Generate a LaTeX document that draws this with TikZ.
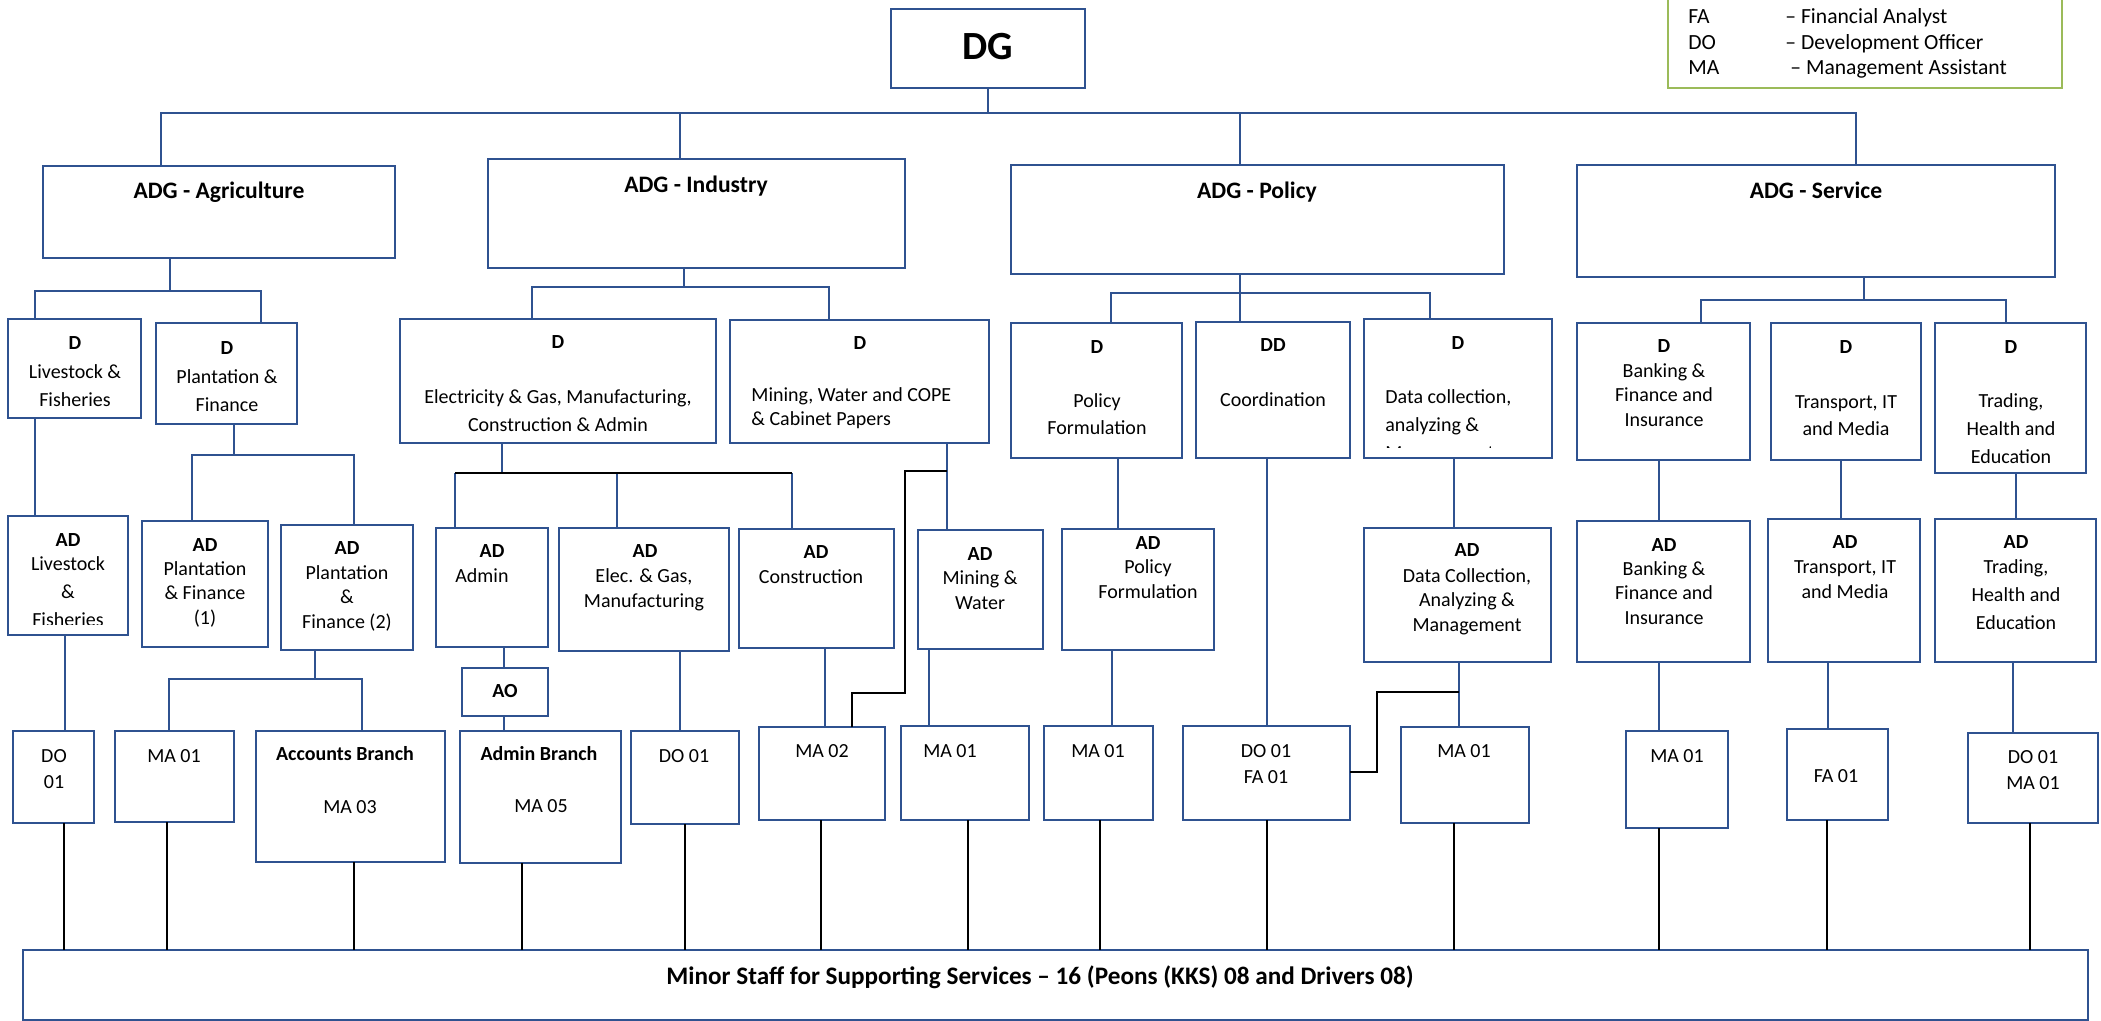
\documentclass[tikz,border=0pt]{standalone}
\usepackage{fontspec}
\setmainfont{Carlito}
\usetikzlibrary{fit}
\definecolor{boxblue}{HTML}{2F5290}
\definecolor{leggreen}{HTML}{9BBB59}
\newcommand\bx[6][box]{\node[#1, fit={(#3,#4) (#5,#6)}] (#2) {};}
\newcommand\tx[5][txt]{\node[#1] (#2) at (#3,#4) {#5};}
\newcommand\vc[4][conn]{\draw[#1] (#2.south -| #4,0) -- (#3.north -| #4,0);}
\begin{document}
\begin{tikzpicture}[x=0.5pt,y=-0.5pt,
  box/.style={draw=boxblue,line width=0.7pt,inner sep=0pt,outer sep=0pt},
  lgbox/.style={draw=leggreen,line width=1pt,inner sep=0pt,outer sep=0pt},
  conn/.style={draw=boxblue,line width=0.9pt},
  blk/.style={draw=black,line width=1.1pt},
  staff/.style={draw=black,line width=0.8pt},
  txt/.style={font=\fontsize{10}{12}\selectfont,text height=6.4pt,text depth=0pt,inner sep=0pt},
  txtb/.style={txt,font=\fontsize{10}{12}\selectfont\bfseries},
  txtw/.style={txt,anchor=west},
  adgt/.style={font=\fontsize{11.8}{14}\selectfont\bfseries,text height=7.6pt,text depth=0pt,inner sep=0pt},
  dgt/.style={font=\fontsize{20}{24}\selectfont\bfseries,text height=12.9pt,text depth=0pt,inner sep=0pt},
  leg/.style={font=\fontsize{10.8}{13}\selectfont,text height=7pt,text depth=0pt,inner sep=0pt,anchor=west},
  minort/.style={font=\fontsize{12.6}{15}\selectfont\bfseries,text height=8.1pt,text depth=0pt,inner sep=0pt},
]
\useasboundingbox (0,0) rectangle (2101,1021);
\fill[white] (0,0) rectangle (2101,1021);

% ---------- boxes ----------
\bx{dg}{891}{9}{1085}{88}
\bx[lgbox]{legend}{1668}{-5}{2062}{88}
\bx{adgA}{43}{166}{395}{258}
\bx{adgI}{488}{159}{905}{268}
\bx{adgP}{1011}{165}{1504}{274}
\bx{adgS}{1577}{165}{2055}{277}
\bx{dLF}{8}{319}{141}{418}
\bx{dPF}{156}{323}{297}{424}
\bx{dEG}{400}{319}{716}{443}
\bx{dMW}{730}{320}{989}{443}
\bx{dPol}{1011}{323}{1182}{458}
\bx{ddC}{1196}{322}{1350}{458}
\bx{dDC}{1364}{319}{1552}{458}
\bx{dBF}{1577}{323}{1750}{460}
\bx{dTr}{1771}{323}{1921}{460}
\bx{dTHE}{1935}{323}{2086}{473}
\bx{adLF}{8}{516}{128}{635}
\bx{adPF1}{142}{521}{268}{647}
\bx{adPF2}{281}{525}{413}{650}
\bx{adAd}{436}{528}{548}{647}
\bx{adEG}{559}{528}{729}{651}
\bx{adCon}{739}{529}{894}{648}
\bx{adMW}{918}{530}{1043}{649}
\bx{adPol}{1062}{529}{1214}{650}
\bx{adDC}{1364}{528}{1551}{662}
\bx{adBF}{1577}{521}{1750}{662}
\bx{adTr}{1768}{519}{1920}{662}
\bx{adTHE}{1935}{519}{2096}{662}
\bx{ao}{462}{668}{548}{716}
\bx{do1}{13}{731}{94}{823}
\bx{ma1a}{115}{731}{234}{822}
\bx{acc}{256}{731}{445}{862}
\bx{admb}{460}{731}{621}{863}
\bx{do1i}{631}{731}{739}{824}
\bx{ma2}{759}{727}{885}{820}
\bx{ma1m}{901}{726}{1029}{820}
\bx{ma1p}{1044}{726}{1153}{820}
\bx{dofa}{1183}{726}{1350}{820}
\bx{ma1d}{1401}{727}{1529}{823}
\bx{ma1b}{1626}{731}{1728}{828}
\bx{fa1}{1787}{729}{1888}{820}
\bx{doma}{1968}{733}{2098}{823}
\bx{minor}{23}{950}{2088}{1020}

% ---------- texts ----------
\tx[dgt]{dg-t}{988}{47}{DG}
\tx[leg]{lg1a}{1688}{17}{FA}
\tx[leg]{lg1b}{1785}{17}{– Financial Analyst}
\tx[leg]{lg2a}{1688}{43}{DO}
\tx[leg]{lg2b}{1785}{43}{– Development Officer}
\tx[leg]{lg3a}{1688}{68}{MA}
\tx[leg]{lg3b}{1790}{68}{– Management Assistant}

\tx[adgt]{adgA-t}{219}{191}{ADG - Agriculture}
\tx[adgt]{adgI-t}{696}{185}{ADG - Industry}
\tx[adgt]{adgP-t}{1257}{191}{ADG - Policy}
\tx[adgt]{adgS-t}{1816}{191}{ADG - Service}

\tx[txtb]{dLF-1}{75}{343}{D}
\tx{dLF-2}{75}{372}{Livestock \&}
\tx{dLF-3}{75}{400}{Fisheries}
\tx[txtb]{dPF-1}{227}{348}{D}
\tx{dPF-2}{227}{377}{Plantation \&}
\tx{dPF-3}{227}{405}{Finance}
\tx[txtb]{dEG-1}{558}{342}{D}
\tx{dEG-2}{558}{397}{Electricity \& Gas, Manufacturing,}
\tx{dEG-3}{558}{425}{Construction \& Admin}
\tx[txtb]{dMW-1}{860}{343}{D}
\tx[txtw]{dMW-2}{751}{395}{Mining, Water and COPE}
\tx[txtw]{dMW-3}{751}{419}{\& Cabinet Papers}
\tx[txtb]{dPol-1}{1097}{347}{D}
\tx{dPol-2}{1097}{401}{Policy}
\tx{dPol-3}{1097}{428}{Formulation}
\tx[txtb]{ddC-1}{1273}{345}{DD}
\tx{ddC-2}{1273}{400}{Coordination}
\tx[txtb]{dDC-1}{1458}{343}{D}
\tx[txtw]{dDC-2}{1385}{397}{Data collection,}
\tx[txtw]{dDC-3}{1385}{425}{analyzing \&}
\begin{scope}
\clip (1365,320) rectangle (1551,448);
\tx[txtw]{dDC-4}{1385}{453}{Management}
\end{scope}
\tx[txtb]{dBF-1}{1664}{346}{D}
\tx{dBF-2}{1664}{371}{Banking \&}
\tx{dBF-3}{1664}{395}{Finance and}
\tx{dBF-4}{1664}{420}{Insurance}
\tx[txtb]{dTr-1}{1846}{347}{D}
\tx{dTr-2}{1846}{402}{Transport, IT}
\tx{dTr-3}{1846}{429}{and Media}
\tx[txtb]{dTHE-1}{2011}{347}{D}
\tx{dTHE-2}{2011}{401}{Trading,}
\tx{dTHE-3}{2011}{429}{Health and}
\tx{dTHE-4}{2011}{457}{Education}

\tx[txtb]{adLF-1}{68}{540}{AD}
\tx{adLF-2}{68}{564}{Livestock}
\tx{adLF-3}{68}{592}{\&}
\begin{scope}
\clip (9,517) rectangle (127,625);
\tx{adLF-4}{68}{620}{Fisheries}
\end{scope}
\tx[txtb]{adPF1-1}{205}{545}{AD}
\tx{adPF1-2}{205}{569}{Plantation}
\tx{adPF1-3}{205}{593}{\& Finance}
\tx{adPF1-4}{205}{618}{(1)}
\tx[txtb]{adPF2-1}{347}{548}{AD}
\tx{adPF2-2}{347}{573}{Plantation}
\tx{adPF2-3}{347}{597}{\&}
\tx{adPF2-4}{347}{622}{Finance (2)}
\tx[txtb]{adAd-1}{492}{551}{AD}
\tx[txtw]{adAd-2}{455}{576}{Admin}
\tx[txtb]{adEG-1}{645}{551}{AD}
\tx{adEG-2}{644}{576}{Elec. \& Gas,}
\tx{adEG-3}{644}{601}{Manufacturing}
\tx[txtb]{adCon-1}{816}{552}{AD}
\tx{adCon-2}{811}{577}{Construction}
\tx[txtb]{adMW-1}{980}{554}{AD}
\tx{adMW-2}{980}{578}{Mining \&}
\tx{adMW-3}{980}{603}{Water}
\tx[txtb]{adPol-1}{1148}{543}{AD}
\tx{adPol-2}{1148}{567}{Policy}
\tx{adPol-3}{1148}{592}{Formulation}
\tx[txtb]{adDC-1}{1467}{550}{AD}
\tx{adDC-2}{1467}{576}{Data Collection,}
\tx{adDC-3}{1467}{600}{Analyzing \&}
\tx{adDC-4}{1467}{625}{Management}
\tx[txtb]{adBF-1}{1664}{545}{AD}
\tx{adBF-2}{1664}{569}{Banking \&}
\tx{adBF-3}{1664}{593}{Finance and}
\tx{adBF-4}{1664}{618}{Insurance}
\tx[txtb]{adTr-1}{1845}{542}{AD}
\tx{adTr-2}{1845}{567}{Transport, IT}
\tx{adTr-3}{1845}{592}{and Media}
\tx[txtb]{adTHE-1}{2016}{542}{AD}
\tx{adTHE-2}{2016}{567}{Trading,}
\tx{adTHE-3}{2016}{595}{Health and}
\tx{adTHE-4}{2016}{623}{Education}
\tx[txtb]{ao-t}{505}{691}{AO}

\tx{do1-1}{54}{756}{DO}
\tx{do1-2}{54}{782}{01}
\tx{ma1a-t}{174}{756}{MA 01}
\tx[txtb]{acc-1}{345}{754}{Accounts Branch}
\tx{acc-2}{350}{807}{MA 03}
\tx[txtb]{admb-1}{539}{754}{Admin Branch}
\tx{admb-2}{541}{806}{MA 05}
\tx{do1i-t}{684}{756}{DO 01}
\tx{ma2-t}{822}{751}{MA 02}
\tx{ma1m-t}{950}{751}{MA 01}
\tx{ma1p-t}{1098}{751}{MA 01}
\tx{dofa-1}{1266}{751}{DO 01}
\tx{dofa-2}{1266}{777}{FA 01}
\tx{ma1d-t}{1464}{751}{MA 01}
\tx{ma1b-t}{1677}{756}{MA 01}
\tx{fa1-t}{1836}{776}{FA 01}
\tx{doma-1}{2033}{757}{DO 01}
\tx{doma-2}{2033}{783}{MA 01}
\tx[minort]{minor-t}{1040}{976}{Minor Staff for Supporting Services – 16 (Peons (KKS) 08 and Drivers 08)}

% ---------- junctions ----------
\coordinate (busTD) at (988,113);
\coordinate (busTL) at (161,113);
\coordinate (busTR) at (1856,113);
\coordinate (busT1) at (680,113);
\coordinate (busT2) at (1240,113);
\coordinate (jA) at (170,291);
\coordinate (jAl) at (35,291);
\coordinate (jAr) at (261,291);
\coordinate (jP) at (234,455);
\coordinate (jPl) at (192,455);
\coordinate (jPr) at (354,455);
\coordinate (jQ) at (315,679);
\coordinate (jQl) at (169,679);
\coordinate (jQr) at (362,679);
\coordinate (jI) at (684,287);
\coordinate (jIl) at (532,287);
\coordinate (jIr) at (829,287);
\coordinate (jE) at (502,473);
\coordinate (jEl) at (455,473);
\coordinate (jEm) at (617,473);
\coordinate (jEr) at (792,473);
\coordinate (jM1) at (947,471);
\coordinate (jM2) at (905,471);
\coordinate (jM3) at (905,693);
\coordinate (jM4) at (852,693);
\coordinate (jPol) at (1111,293);
\coordinate (jPor) at (1430,293);
\coordinate (jD1) at (1459,692);
\coordinate (jD2) at (1377,692);
\coordinate (jD3) at (1377,772);
\coordinate (jS) at (1864,300);
\coordinate (jSl) at (1701,300);
\coordinate (jSr) at (2006,300);

% ---------- connectors ----------
\draw[conn] (dg.south) -- (busTD);
\draw[conn] (adgA.north -| busTL) -- (busTL) -- (busTR) -- (adgS.north -| busTR);
\draw[conn] (busT1) -- (adgI.north -| busT1);
\draw[conn] (busT2) -- (adgP.north -| busT2);

% agriculture
\draw[conn] (adgA.south -| jA) -- (jA);
\draw[conn] (dLF.north -| jAl) -- (jAl) -- (jAr) -- (dPF.north -| jAr);
\draw[conn] (dPF.south -| jP) -- (jP);
\draw[conn] (adPF1.north -| jPl) -- (jPl) -- (jPr) -- (adPF2.north -| jPr);
\vc{dLF}{adLF}{35}
\vc{adLF}{do1}{65}
\draw[conn] (adPF2.south -| jQ) -- (jQ);
\draw[conn] (ma1a.north -| jQl) -- (jQl) -- (jQr) -- (acc.north -| jQr);

% industry
\draw[conn] (adgI.south -| jI) -- (jI);
\draw[conn] (dEG.north -| jIl) -- (jIl) -- (jIr) -- (dMW.north -| jIr);
\draw[conn] (dEG.south -| jE) -- (jE);
\draw[conn] (jEl) -- (adAd.north -| jEl);
\draw[conn] (jEm) -- (adEG.north -| jEm);
\draw[conn] (jEr) -- (adCon.north -| jEr);
\draw[blk] (jEl) -- (jEr);
\vc{dMW}{adMW}{947}
\draw[blk] (jM1) -- (jM2) -- (jM3) -- (jM4) -- (ma2.north -| jM4);
\vc{adAd}{ao}{504}
\vc{ao}{admb}{504}
\vc{adEG}{do1i}{680}
\vc{adCon}{ma2}{825}
\vc{adMW}{ma1m}{929}

% policy
\vc{adgP}{ddC}{1240}
\draw[conn] (dPol.north -| jPol) -- (jPol) -- (jPor) -- (dDC.north -| jPor);
\vc{dPol}{adPol}{1118}
\vc{ddC}{dofa}{1267}
\vc{dDC}{adDC}{1454}
\vc{adPol}{ma1p}{1112}
\vc{adDC}{ma1d}{1459}
\draw[blk] (jD1) -- (jD2) -- (jD3) -- (dofa.east |- jD3);

% service
\draw[conn] (adgS.south -| jS) -- (jS);
\draw[conn] (dBF.north -| jSl) -- (jSl) -- (jSr) -- (dTHE.north -| jSr);
\vc{dBF}{adBF}{1659}
\vc{dTr}{adTr}{1841}
\vc{dTHE}{adTHE}{2016}
\vc{adBF}{ma1b}{1659}
\vc{adTr}{fa1}{1828}
\vc{adTHE}{doma}{2013}

% staff lines
\draw[staff] (do1.south -| 64,0) -- (minor.north -| 64,0);
\draw[staff] (ma1a.south -| 167,0) -- (minor.north -| 167,0);
\draw[staff] (acc.south -| 354,0) -- (minor.north -| 354,0);
\draw[staff] (admb.south -| 522,0) -- (minor.north -| 522,0);
\draw[staff] (do1i.south -| 685,0) -- (minor.north -| 685,0);
\draw[staff] (ma2.south -| 821,0) -- (minor.north -| 821,0);
\draw[staff] (ma1m.south -| 968,0) -- (minor.north -| 968,0);
\draw[staff] (ma1p.south -| 1100,0) -- (minor.north -| 1100,0);
\draw[staff] (dofa.south -| 1267,0) -- (minor.north -| 1267,0);
\draw[staff] (ma1d.south -| 1454,0) -- (minor.north -| 1454,0);
\draw[staff] (ma1b.south -| 1659,0) -- (minor.north -| 1659,0);
\draw[staff] (fa1.south -| 1827,0) -- (minor.north -| 1827,0);
\draw[staff] (doma.south -| 2030,0) -- (minor.north -| 2030,0);
\end{tikzpicture}
\end{document}
